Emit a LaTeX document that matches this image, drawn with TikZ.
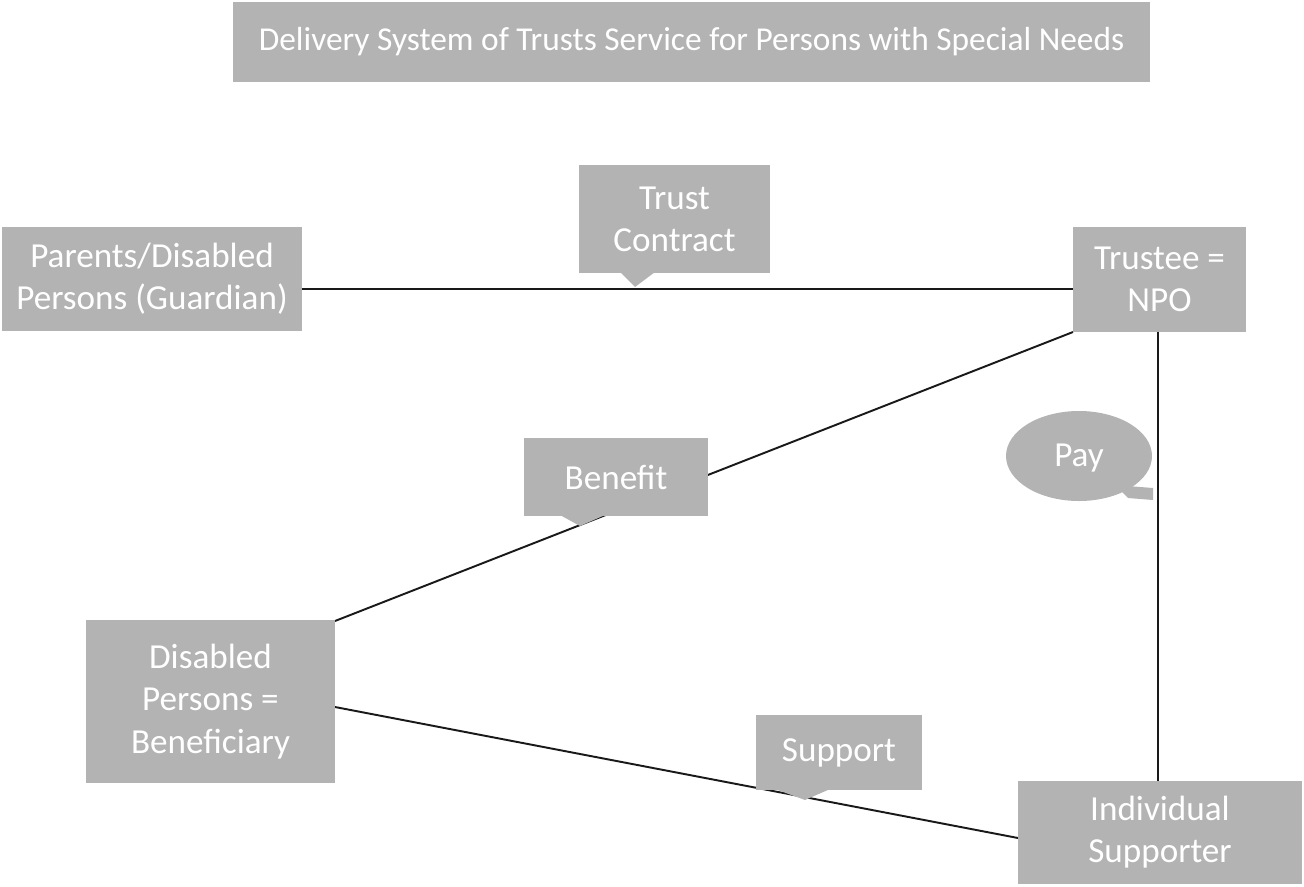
\documentclass[tikz,border=0pt]{standalone}
\usepackage{fontspec}
\setmainfont{Carlito}
\definecolor{boxg}{HTML}{B3B3B3}
\begin{document}
\begin{tikzpicture}[x=0.02cm,y=-0.02cm,
  box/.style={fill=boxg,text=white,align=center,inner sep=0pt,font=\fontsize{20}{24}\selectfont},
  ln/.style={line width=1.1pt,black!90}]
\useasboundingbox (0,0) rectangle (1304,886);
% title
\node[box,minimum width=917*0.02cm,minimum height=80*0.02cm,font=\fontsize{19}{23}\selectfont] (title) at (691.5,42) {Delivery System of Trusts Service for Persons with Special Needs};
% connectors (under callouts)
\coordinate (pl) at (302,289);
\coordinate (tl) at (1073,289);
\draw[ln] (pl) -- (tl);
\coordinate (tbl) at (1073,332);
\coordinate (dtr) at (335,621);
\draw[ln] (tbl) -- (dtr);
\coordinate (tb) at (1158,332);
\coordinate (it) at (1158,781);
\draw[ln] (tb) -- (it);
\coordinate (dr) at (335,707);
\coordinate (il) at (1018,838);
\draw[ln] (dr) -- (il);
% boxes
\node[box,minimum width=300*0.02cm,minimum height=104*0.02cm] (par) at (152,279) {Parents/Disabled\\Persons (Guardian)};
\node[box,minimum width=173*0.02cm,minimum height=105*0.02cm] (trustee) at (1159.5,279.5) {Trustee =\\NPO};
\node[box,minimum width=249*0.02cm,minimum height=163*0.02cm] (dis) at (210.5,701.5) {Disabled\\Persons =\\Beneficiary};
\node[box,minimum width=284*0.02cm,minimum height=103*0.02cm] (ind) at (1160,832.5) {Individual\\Supporter};
% callouts
\fill[boxg] (620,272) -- (655,272) -- (635,287) -- cycle;
\node[box,minimum width=191*0.02cm,minimum height=108*0.02cm] (tc) at (674.5,219) {Trust\\Contract};
\fill[boxg] (560,515) -- (605,515) -- (580,526) -- cycle;
\node[box,minimum width=184*0.02cm,minimum height=78*0.02cm] (ben) at (616,477) {Benefit};
\fill[boxg] (775,789) -- (830,789) -- (805,800) -- cycle;
\node[box,minimum width=166*0.02cm,minimum height=75*0.02cm] (sup) at (839,752.5) {Support};
\fill[boxg] (1115,485) -- (1153,488) -- (1153,500) -- (1128,498) -- cycle;
\fill[boxg] (1079,456) ellipse [x radius=73, y radius=45];
\node[box] (pay) at (1079,458) {Pay};
\end{tikzpicture}
\end{document}
